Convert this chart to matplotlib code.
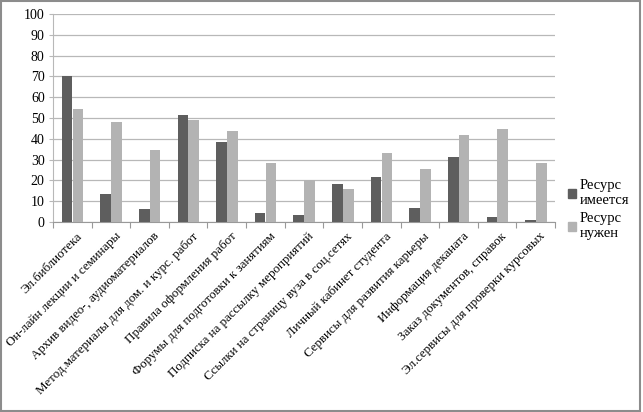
import numpy as np
import matplotlib
matplotlib.use('Agg')
import matplotlib.pyplot as plt
from matplotlib.patches import Patch, Rectangle

#%% Data

categories = ['Эл.библиотека',
              'Он-лайн лекции и семинары',
              'Архив видео-, аудиоматериалов',
              'Метод.материалы для дом. и курс. работ',
              'Правила оформления работ',
              'Форумы для подготовки к занятиям',
              'Подписка на рассылку мероприятий',
              'Ссылки на страницу вуза в соц.сетях',
              'Личный кабинет студента',
              'Сервисы для развития карьеры',
              'Информация деканата',
              'Заказ документов, справок',
              'Эл.сервисы для проверки курсовых']

have = [70.0, 13.4, 6.3, 51.3, 38.6, 4.1, 3.4, 18.3, 21.5, 6.6, 31.1, 2.6, 1.0]
need = [54.2, 47.9, 34.5, 49.0, 43.8, 28.5, 20.2, 15.9, 33.3, 25.5, 41.7, 44.9, 28.2]

series_names = ['Ресурс\nимеется', 'Ресурс\nнужен']
yticks = np.arange(0, 101, 10)

#%% Style

plt.rcParams['font.family'] = 'serif'
plt.rcParams['font.serif'] = ['Liberation Serif', 'Times New Roman', 'DejaVu Serif']
dark = '#5e5e5e'
light = '#b3b3b3'
grid_col = '#b8b8b8'

fig = plt.figure(figsize=(6.43, 4.12), dpi=100)
ax = fig.add_axes([53 / 643, 1 - 222 / 412, (555 - 53) / 643, (222 - 14) / 412])

x = np.arange(len(categories))
w = 0.275
ax.bar(x - 0.135, have, w, color=dark, zorder=3)
ax.bar(x + 0.145, need, w, color=light, zorder=3)

ax.set_xlim(-0.5, len(categories) - 0.5)
ax.set_ylim(0, 100)
ax.set_yticks(yticks)
ax.set_yticklabels([str(t) for t in yticks], fontsize=10)
ax.yaxis.grid(True, color=grid_col, linewidth=0.9, zorder=0)

for side in ['top', 'right']:
    ax.spines[side].set_visible(False)
ax.spines['left'].set_color(grid_col)
ax.spines['bottom'].set_color('#999999')
ax.tick_params(axis='y', length=3, color=grid_col, pad=3)

# category boundary ticks on the bottom axis
ax.set_xticks(np.arange(len(categories) + 1) - 0.5)
ax.set_xticklabels([])
ax.tick_params(axis='x', length=4, color='#999999')

for i, name in enumerate(categories):
    ax.text(i + 0.1, -4, name, rotation=45, rotation_mode='anchor',
            ha='right', va='top', fontsize=9.3, transform=ax.transData,
            clip_on=False)

handles = [Patch(color=dark), Patch(color=light)]
fig.legend(handles, series_names, loc='upper left',
           bbox_to_anchor=(561 / 643, 1 - 172 / 412), frameon=False,
           fontsize=10.5, handlelength=0.55, handleheight=0.55,
           handletextpad=0.25, labelspacing=0.35, borderpad=0)

# outer frame
fig.patches.append(Rectangle((0.002, 0.003), 0.994, 0.994, transform=fig.transFigure,
                             fill=False, edgecolor='#8c8c8c', linewidth=1.5))

plt.savefig('out.png', dpi=100)
